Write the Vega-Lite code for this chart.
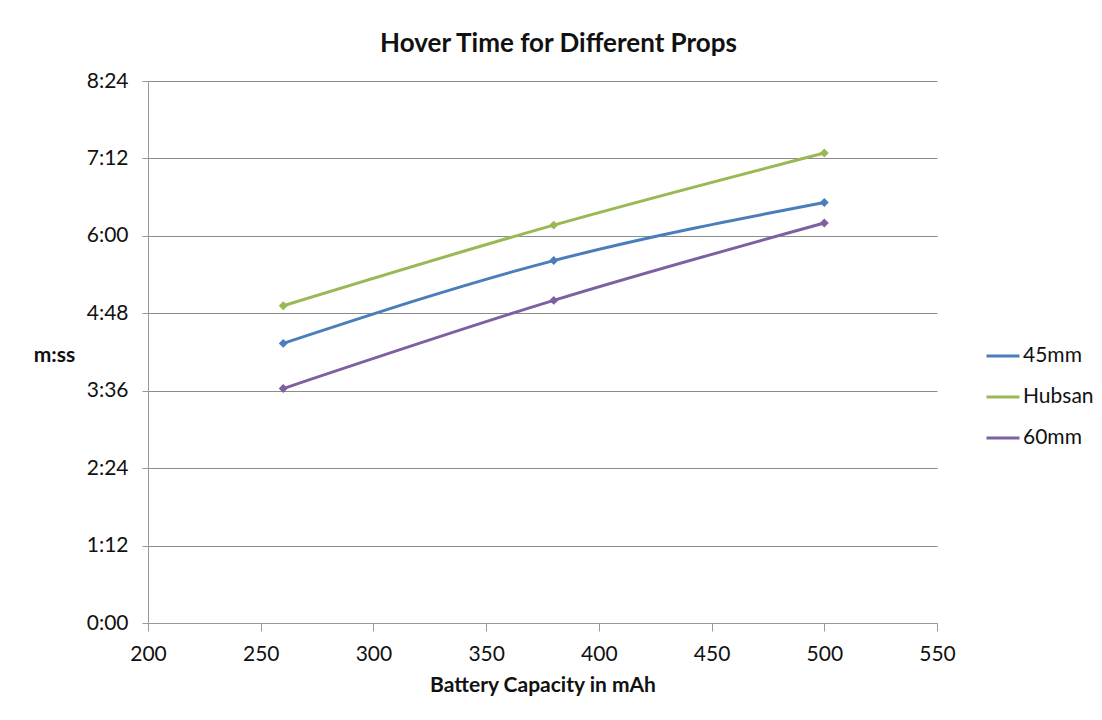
{
  "$schema": "https://vega.github.io/schema/vega-lite/v6.json",
  "width": 789,
  "height": 542,
  "autosize": {"type": "none"},
  "padding": {"left": 148, "top": 81, "right": 165, "bottom": 97},
  "background": "white",
  "config": {"font": "Lato", "view": {"stroke": null}},
  "title": {"text": "Hover Time for Different Props", "fontSize": 26, "fontWeight": "bold", "color": "#111", "offset": 13, "dx": 16},
  "data": {
    "values": [
      {"series": "45mm", "mah": 260, "sec": 260},
      {"series": "45mm", "mah": 380, "sec": 337},
      {"series": "45mm", "mah": 500, "sec": 391},
      {"series": "Hubsan", "mah": 260, "sec": 295},
      {"series": "Hubsan", "mah": 380, "sec": 370},
      {"series": "Hubsan", "mah": 500, "sec": 437},
      {"series": "60mm", "mah": 260, "sec": 218},
      {"series": "60mm", "mah": 380, "sec": 300},
      {"series": "60mm", "mah": 500, "sec": 372}
    ]
  },
  "encoding": {
    "x": {
      "field": "mah", "type": "quantitative",
      "scale": {"domain": [200, 550], "nice": false, "zero": false},
      "axis": {
        "values": [200, 250, 300, 350, 400, 450, 500, 550],
        "grid": false, "title": "Battery Capacity in mAh",
        "titleFontSize": 21, "titleFontWeight": "bold", "titleColor": "#111", "titlePadding": 10,
        "labelFontSize": 21, "labelColor": "#111", "labelPadding": 12, "labelFlush": false,
        "domainColor": "#999", "tickColor": "#999", "tickSize": 8
      }
    },
    "y": {
      "field": "sec", "type": "quantitative",
      "scale": {"domain": [0, 504], "nice": false},
      "axis": {
        "values": [0, 72, 144, 216, 288, 360, 432, 504],
        "labelExpr": "floor(datum.value/60) + ':' + (datum.value % 60 < 10 ? '0' : '') + (datum.value % 60)",
        "grid": true, "gridColor": "#8c8c8c", "gridWidth": 1,
        "title": "m:ss", "titleAngle": 0, "titleX": -94, "titleY": 274, "titleAlign": "center", "titleBaseline": "middle",
        "titleFontSize": 21, "titleFontWeight": "bold", "titleColor": "#111",
        "labelFontSize": 21, "labelColor": "#111", "labelPadding": 14, "labelFlush": false,
        "domainColor": "#999", "tickColor": "#999", "tickSize": 6
      }
    },
    "color": {
      "field": "series", "type": "nominal",
      "scale": {"domain": ["45mm", "Hubsan", "60mm"], "range": ["#4a7ebb", "#98b954", "#7d60a0"]},
      "legend": {
        "orient": "none", "legendX": 837, "legendY": 257, "title": null,
        "labelFontSize": 21, "labelColor": "#111", "rowPadding": 13,
        "symbolType": "stroke", "symbolSize": 1089, "symbolStrokeWidth": 3, "labelOffset": 2
      }
    }
  },
  "layer": [
    {"mark": {"type": "line", "interpolate": "monotone", "strokeWidth": 3}},
    {"mark": {"type": "point", "filled": true, "shape": "diamond", "size": 80, "opacity": 1}}
  ]
}
